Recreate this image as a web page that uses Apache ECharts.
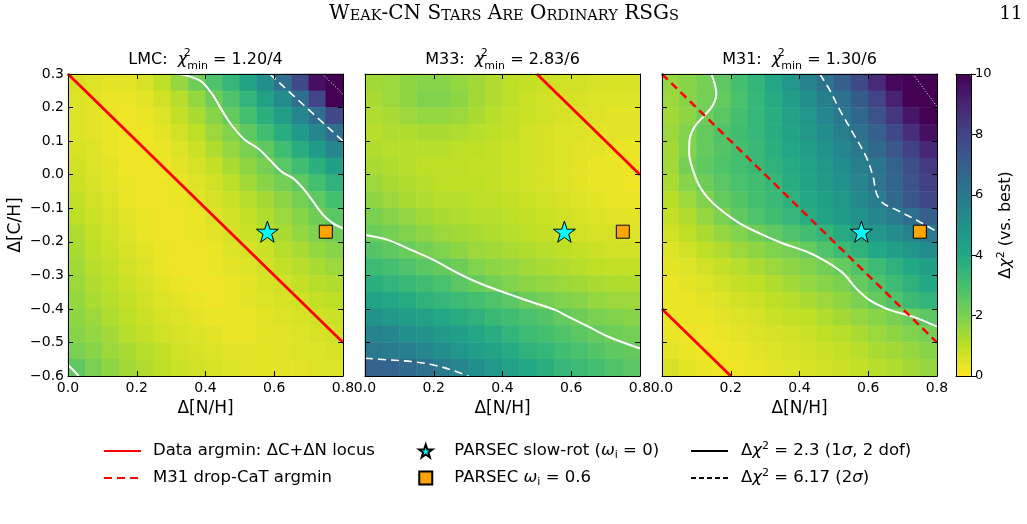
<!DOCTYPE html>
<html>
<head>
<meta charset="utf-8">
<script src="https://cdn.jsdelivr.net/npm/echarts@6/dist/echarts.min.js"></script>
<style>
html, body { margin: 0; padding: 0; background: #fff; }
#chart { width: 1027px; height: 524px; }
</style>
</head>
<body>
<div id="chart"></div>
<script>
// cell centres of the delta-chi2 maps
const xCells = [0.025, 0.075, 0.125, 0.175, 0.225, 0.275, 0.325, 0.375, 0.425, 0.475, 0.525, 0.575, 0.625, 0.675, 0.725, 0.775];
// rows listed top -> bottom
const yCells = [0.275, 0.225, 0.175, 0.125, 0.075, 0.025, -0.025, -0.075, -0.125, -0.175, -0.225, -0.275, -0.325, -0.375, -0.425, -0.475, -0.525, -0.575];

const lmcMap = [
  [0.6, 0.5, 0.4, 0.4, 0.6, 1.0, 1.6, 2.2, 2.8, 3.4, 4.2, 5.1, 6.3, 7.8, 9.6, 12.0],
  [0.5, 0.4, 0.3, 0.3, 0.4, 0.7, 1.1, 1.6, 2.2, 2.8, 3.5, 4.3, 5.2, 6.4, 8.0, 10.2],
  [0.5, 0.4, 0.3, 0.2, 0.3, 0.5, 0.9, 1.3, 1.8, 2.4, 3.0, 3.7, 4.5, 5.4, 6.4, 7.8],
  [0.5, 0.4, 0.3, 0.2, 0.2, 0.4, 0.7, 1.0, 1.5, 1.9, 2.5, 3.1, 3.8, 4.6, 5.4, 6.4],
  [0.6, 0.5, 0.3, 0.2, 0.2, 0.3, 0.5, 0.8, 1.2, 1.6, 2.0, 2.5, 3.1, 3.8, 4.6, 5.5],
  [0.7, 0.5, 0.4, 0.2, 0.2, 0.2, 0.4, 0.6, 0.9, 1.3, 1.7, 2.1, 2.6, 3.1, 3.7, 4.4],
  [0.8, 0.6, 0.4, 0.3, 0.2, 0.2, 0.3, 0.5, 0.7, 1.0, 1.4, 1.8, 2.1, 2.5, 3.0, 3.6],
  [0.9, 0.7, 0.5, 0.3, 0.2, 0.2, 0.3, 0.4, 0.6, 0.8, 1.1, 1.4, 1.7, 2.1, 2.5, 3.0],
  [1.0, 0.8, 0.6, 0.4, 0.3, 0.2, 0.2, 0.3, 0.5, 0.7, 0.9, 1.2, 1.5, 1.8, 2.2, 2.6],
  [1.2, 0.9, 0.7, 0.5, 0.3, 0.2, 0.2, 0.3, 0.4, 0.6, 0.8, 1.0, 1.3, 1.6, 1.9, 2.2],
  [1.3, 1.0, 0.8, 0.6, 0.4, 0.3, 0.2, 0.2, 0.3, 0.5, 0.6, 0.8, 1.1, 1.3, 1.6, 1.8],
  [1.4, 1.1, 0.9, 0.7, 0.5, 0.3, 0.2, 0.2, 0.3, 0.4, 0.5, 0.7, 0.9, 1.1, 1.3, 1.5],
  [1.5, 1.2, 1.0, 0.8, 0.6, 0.4, 0.3, 0.2, 0.2, 0.3, 0.4, 0.6, 0.7, 0.9, 1.1, 1.2],
  [1.6, 1.3, 1.1, 0.9, 0.7, 0.5, 0.4, 0.3, 0.2, 0.3, 0.4, 0.5, 0.6, 0.7, 0.9, 1.0],
  [1.7, 1.5, 1.2, 1.0, 0.8, 0.6, 0.5, 0.4, 0.3, 0.3, 0.3, 0.4, 0.5, 0.6, 0.7, 0.8],
  [1.8, 1.6, 1.4, 1.1, 0.9, 0.7, 0.6, 0.5, 0.4, 0.3, 0.3, 0.4, 0.4, 0.5, 0.6, 0.7],
  [2.0, 1.8, 1.5, 1.3, 1.1, 0.9, 0.7, 0.6, 0.5, 0.4, 0.4, 0.4, 0.4, 0.5, 0.5, 0.6],
  [2.5, 2.0, 1.7, 1.4, 1.2, 1.0, 0.8, 0.7, 0.6, 0.5, 0.4, 0.4, 0.4, 0.4, 0.5, 0.5]
];

const m33Map = [
  [1.4, 1.5, 1.7, 1.8, 1.8, 1.6, 1.4, 1.2, 1.0, 0.9, 0.8, 0.7, 0.7, 0.6, 0.6, 0.6],
  [1.3, 1.5, 1.7, 1.9, 1.9, 1.7, 1.4, 1.2, 1.0, 0.8, 0.7, 0.6, 0.6, 0.5, 0.5, 0.5],
  [1.2, 1.3, 1.5, 1.6, 1.6, 1.5, 1.3, 1.1, 0.9, 0.8, 0.7, 0.6, 0.5, 0.5, 0.4, 0.4],
  [1.1, 1.2, 1.2, 1.3, 1.3, 1.2, 1.1, 1.0, 0.9, 0.7, 0.6, 0.5, 0.5, 0.4, 0.4, 0.4],
  [1.2, 1.1, 1.1, 1.1, 1.1, 1.0, 1.0, 0.9, 0.8, 0.7, 0.6, 0.5, 0.4, 0.4, 0.3, 0.3],
  [1.3, 1.2, 1.1, 1.0, 1.0, 1.0, 0.9, 0.9, 0.8, 0.7, 0.6, 0.5, 0.4, 0.3, 0.3, 0.2],
  [1.5, 1.3, 1.2, 1.1, 1.0, 1.0, 1.0, 0.9, 0.8, 0.7, 0.6, 0.5, 0.4, 0.3, 0.3, 0.2],
  [1.7, 1.5, 1.3, 1.2, 1.1, 1.1, 1.0, 1.0, 0.9, 0.8, 0.7, 0.6, 0.5, 0.4, 0.3, 0.3],
  [2.0, 1.8, 1.6, 1.4, 1.3, 1.2, 1.1, 1.1, 1.0, 0.9, 0.8, 0.7, 0.6, 0.5, 0.4, 0.4],
  [2.3, 2.1, 1.9, 1.7, 1.5, 1.4, 1.3, 1.2, 1.1, 1.0, 0.9, 0.8, 0.7, 0.6, 0.6, 0.5],
  [2.7, 2.5, 2.3, 2.1, 1.9, 1.7, 1.5, 1.4, 1.3, 1.2, 1.1, 1.0, 0.9, 0.8, 0.7, 0.7],
  [3.2, 3.0, 2.8, 2.6, 2.4, 2.2, 1.9, 1.7, 1.6, 1.4, 1.3, 1.2, 1.1, 1.0, 0.9, 0.9],
  [3.7, 3.5, 3.3, 3.1, 2.9, 2.6, 2.35, 2.1, 1.9, 1.7, 1.6, 1.5, 1.4, 1.3, 1.2, 1.2],
  [4.3, 4.1, 3.9, 3.6, 3.4, 3.2, 3.0, 2.8, 2.6, 2.3, 2.1, 1.9, 1.8, 1.6, 1.5, 1.5],
  [4.9, 4.7, 4.5, 4.3, 4.0, 3.8, 3.6, 3.3, 3.1, 2.9, 2.7, 2.4, 2.2, 2.0, 1.9, 1.8],
  [5.6, 5.4, 5.1, 4.9, 4.6, 4.4, 4.1, 3.8, 3.5, 3.2, 3.0, 2.8, 2.6, 2.4, 2.2, 2.1],
  [6.0, 5.9, 5.7, 5.4, 5.1, 4.8, 4.5, 4.2, 3.9, 3.6, 3.4, 3.1, 2.9, 2.7, 2.5, 2.4],
  [6.9, 6.8, 6.6, 6.3, 5.9, 5.5, 5.1, 4.7, 4.3, 4.0, 3.7, 3.4, 3.2, 3.0, 2.8, 2.6]
];

const m31Map = [
  [1.6, 1.8, 2.1, 2.5, 3.0, 3.5, 4.1, 4.8, 5.6, 6.2, 7.0, 7.8, 8.8, 9.8, 11.0, 12.5],
  [1.5, 1.8, 2.1, 2.4, 2.9, 3.4, 3.9, 4.5, 5.1, 5.7, 6.3, 7.1, 8.0, 9.1, 10.3, 11.6],
  [1.4, 1.7, 2.2, 2.6, 3.0, 3.4, 3.8, 4.3, 4.8, 5.4, 6.0, 6.7, 7.5, 8.4, 9.4, 10.5],
  [1.5, 1.9, 2.4, 2.8, 3.1, 3.4, 3.8, 4.2, 4.7, 5.2, 5.7, 6.3, 7.0, 7.8, 8.7, 9.6],
  [1.4, 1.9, 2.4, 2.7, 3.0, 3.3, 3.7, 4.1, 4.5, 4.9, 5.4, 6.0, 6.6, 7.3, 8.1, 8.9],
  [1.4, 2.1, 2.5, 2.8, 3.0, 3.3, 3.6, 3.9, 4.3, 4.7, 5.2, 5.7, 6.1, 6.9, 7.6, 8.3],
  [1.3, 1.8, 2.2, 2.6, 2.9, 3.1, 3.4, 3.8, 4.2, 4.6, 5.0, 5.5, 6.1, 6.8, 7.5, 8.1],
  [1.1, 1.5, 1.9, 2.4, 2.7, 3.0, 3.3, 3.6, 4.0, 4.4, 4.8, 5.3, 5.9, 6.6, 7.3, 7.9],
  [0.9, 1.2, 1.6, 2.0, 2.5, 2.8, 3.1, 3.4, 3.8, 4.2, 4.6, 5.0, 5.5, 5.9, 6.4, 7.0],
  [0.7, 1.0, 1.3, 1.6, 1.9, 2.2, 2.5, 2.8, 3.1, 3.5, 3.9, 4.3, 4.7, 5.2, 5.6, 6.0],
  [0.5, 0.7, 1.0, 1.2, 1.5, 1.7, 1.9, 2.1, 2.4, 2.8, 3.2, 3.6, 4.0, 4.4, 4.8, 5.2],
  [0.4, 0.5, 0.7, 0.9, 1.1, 1.3, 1.5, 1.7, 1.9, 2.1, 2.4, 2.8, 3.2, 3.6, 4.0, 4.4],
  [0.3, 0.4, 0.5, 0.7, 0.9, 1.0, 1.2, 1.4, 1.6, 1.8, 2.0, 2.4, 2.8, 3.2, 3.6, 4.0],
  [0.3, 0.3, 0.4, 0.5, 0.7, 0.8, 1.0, 1.1, 1.3, 1.5, 1.7, 2.0, 2.4, 2.8, 3.2, 3.5],
  [0.3, 0.3, 0.3, 0.4, 0.5, 0.6, 0.8, 0.9, 1.0, 1.2, 1.4, 1.6, 1.8, 2.0, 2.3, 2.6],
  [0.3, 0.2, 0.2, 0.3, 0.4, 0.5, 0.6, 0.7, 0.8, 1.0, 1.1, 1.3, 1.5, 1.7, 1.9, 2.1],
  [0.4, 0.3, 0.2, 0.2, 0.3, 0.4, 0.5, 0.6, 0.7, 0.8, 0.9, 1.1, 1.3, 1.4, 1.6, 1.8],
  [0.6, 0.4, 0.3, 0.2, 0.2, 0.3, 0.4, 0.5, 0.6, 0.7, 0.8, 0.9, 1.1, 1.2, 1.4, 1.6]
];

// contour levels: 2.3 (solid), 6.17 (dashed), 11.8 (dotted)
const lmcSig1 = [[0.326, 0.3], [0.384, 0.28], [0.418, 0.242], [0.447, 0.193], [0.476, 0.148], [0.515, 0.103], [0.553, 0.078], [0.587, 0.044], [0.621, 0.009], [0.655, -0.011], [0.684, -0.041], [0.713, -0.08], [0.742, -0.12], [0.771, -0.145], [0.8, -0.16]];
const lmcSig1b = [[0, -0.567], [0.015, -0.582], [0.031, -0.6]];
const lmcSig2 = [[0.587, 0.3], [0.8, 0.1]];
const lmcSig3 = [[0.74, 0.3], [0.8, 0.24]];

const m33Sig1 = [[0, -0.18], [0.068, -0.195], [0.136, -0.225], [0.199, -0.254], [0.252, -0.284], [0.301, -0.309], [0.359, -0.334], [0.427, -0.359], [0.495, -0.383], [0.553, -0.403], [0.591, -0.423], [0.65, -0.453], [0.708, -0.483], [0.8, -0.518]];
const m33Sig2 = [[0, -0.547], [0.068, -0.552], [0.136, -0.557], [0.199, -0.567], [0.252, -0.582], [0.301, -0.6]];

const m31Sig1 = [[0.1435, 0.3], [0.153, 0.272], [0.158, 0.242], [0.148, 0.207], [0.124, 0.177], [0.095, 0.143], [0.08, 0.103], [0.079, 0.063], [0.09, 0.014], [0.11, -0.036], [0.139, -0.075], [0.177, -0.11], [0.226, -0.145], [0.284, -0.175], [0.352, -0.205], [0.42, -0.229], [0.478, -0.259], [0.527, -0.294], [0.565, -0.339], [0.604, -0.374], [0.662, -0.403], [0.73, -0.423], [0.8, -0.453]];
const m31Sig2 = [[0.459, 0.3], [0.488, 0.252], [0.517, 0.193], [0.556, 0.123], [0.594, 0.053], [0.614, -0.006], [0.624, -0.056], [0.643, -0.085], [0.682, -0.105], [0.74, -0.135], [0.8, -0.17]];
const m31Sig3 = [[0.73, 0.3], [0.8, 0.203]];

// argmin loci (dC + dN = const)
const lmcLocus = [[0, 0.3], [0.8, -0.5]];
const m33Locus = [[0.5, 0.3], [0.8, 0.0]];
const m31Locus = [[0, -0.4], [0.2, -0.6]];
const m31DropCaT = [[0, 0.3], [0.8, -0.5]];

// PARSEC model predictions
const parsecSlow = [[0.58, -0.17]];
const parsecFast = [[0.75, -0.17]];

const viridisR = ['#fde725', '#bddf26', '#7ad151', '#44bf70', '#22a884', '#21918c', '#2a788e', '#355f8d', '#414487', '#482475', '#440154'];

const LOCUS = 'Data argmin: ΔC+ΔN locus';
const DROP = 'M31 drop-CaT argmin';
const SLOW = 'PARSEC slow-rot (ωi = 0)';
const FAST = 'PARSEC ωi = 0.6';
const SIG1 = 'Δχ2 = 2.3 (1σ, 2 dof)';
const SIG2 = 'Δχ2 = 6.17 (2σ)';
const legendText = {};
legendText[LOCUS] = 'Data argmin: ΔC+ΔN locus';
legendText[DROP] = 'M31 drop-CaT argmin';
legendText[SLOW] = 'PARSEC slow-rot ({it|ω}{sub|i} = 0)';
legendText[FAST] = 'PARSEC {it|ω}{sub|i} = 0.6';
legendText[SIG1] = 'Δ{it|χ}{sup|2} = 2.3 (1{it|σ}, 2 dof)';
legendText[SIG2] = 'Δ{it|χ}{sup|2} = 6.17 (2{it|σ})';

const panels = [
  { label: 'LMC', chi: '1.20/4', map: lmcMap, sig1: [lmcSig1, lmcSig1b], sig2: [lmcSig2], sig3: [lmcSig3], locus: [lmcLocus], drop: [], left: 68, yLabels: true },
  { label: 'M33', chi: '2.83/6', map: m33Map, sig1: [m33Sig1], sig2: [m33Sig2], sig3: [], locus: [m33Locus], drop: [], left: 365, yLabels: false },
  { label: 'M31', chi: '1.30/6', map: m31Map, sig1: [m31Sig1], sig2: [m31Sig2], sig3: [m31Sig3], locus: [m31Locus], drop: [m31DropCaT], left: 662, yLabels: false }
];

const TOP = 74, W = 275, H = 302;
const FONT = 'DejaVu Sans';
const SERIF = 'DejaVu Serif';
const starPath = 'path://M50,0 L61.8,35.4 L98.1,35.4 L68.8,57.3 L79.4,92.7 L50,71 L20.6,92.7 L31.2,57.3 L1.9,35.4 L38.2,35.4 Z';
const squarePath = 'path://M0,0 L10,0 L10,10 L0,10 Z';
const fmt1 = v => (Math.abs(v) < 1e-9 ? 0 : v).toFixed(1).replace('-', '\u2212');
const richFor = size => ({
  it: { fontFamily: FONT, fontStyle: 'italic', fontSize: size, color: '#000' },
  sup: { fontFamily: FONT, fontSize: Math.round(size * 0.68), verticalAlign: 'top', lineHeight: 10, color: '#000' },
  sub: { fontFamily: FONT, fontSize: Math.round(size * 0.68), verticalAlign: 'bottom', lineHeight: 10, color: '#000' }
});

const chart = echarts.init(document.getElementById('chart'));

const grid = [], xAxis = [], yAxis = [], series = [], title = [];
const heatIdx = [];
const yCats = yCells.slice().reverse().map(String);

panels.forEach((p, i) => {
  grid.push({ left: p.left, top: TOP, width: W, height: H });
  grid.push({ left: p.left, top: TOP, width: W, height: H });
  const tick = { show: true, inside: true, length: 5, lineStyle: { color: '#000', width: 1 } };
  const line = { show: true, onZero: false, lineStyle: { color: '#000', width: 1 } };
  // hidden category axes carry the map cells
  xAxis.push({ type: 'category', gridIndex: 2 * i, data: xCells.map(String), show: false });
  yAxis.push({ type: 'category', gridIndex: 2 * i, data: yCats, show: false });
  xAxis.push({
    type: 'value', gridIndex: 2 * i + 1, min: 0, max: 0.8, interval: 0.2, z: 10,
    axisLine: line, axisTick: tick, splitLine: { show: false },
    axisLabel: { fontFamily: FONT, fontSize: 14, color: '#000', margin: 5, formatter: fmt1 },
    name: 'Δ[N/H]', nameLocation: 'middle', nameGap: 21,
    nameTextStyle: { fontFamily: FONT, fontSize: 17, color: '#000' }
  });
  xAxis.push({
    type: 'value', gridIndex: 2 * i + 1, position: 'top', min: 0, max: 0.8, interval: 0.2, z: 10,
    axisLine: line, axisTick: tick, splitLine: { show: false }, axisLabel: { show: false }
  });
  yAxis.push({
    type: 'value', gridIndex: 2 * i + 1, min: -0.6, max: 0.3, interval: 0.1, z: 10,
    axisLine: line, axisTick: tick, splitLine: { show: false },
    axisLabel: { show: p.yLabels, fontFamily: FONT, fontSize: 14, color: '#000', margin: 4, formatter: fmt1 },
    name: p.yLabels ? 'Δ[C/H]' : '', nameLocation: 'middle', nameGap: 44,
    nameTextStyle: { fontFamily: FONT, fontSize: 17, color: '#000' }
  });
  yAxis.push({
    type: 'value', gridIndex: 2 * i + 1, position: 'right', min: -0.6, max: 0.3, interval: 0.1, z: 10,
    axisLine: line, axisTick: tick, splitLine: { show: false }, axisLabel: { show: false }
  });

  const cells = [];
  p.map.forEach((row, r) => row.forEach((v, c) => cells.push([c, yCells.length - 1 - r, v])));
  heatIdx.push(series.length);
  series.push({
    type: 'heatmap', xAxisIndex: 3 * i, yAxisIndex: 3 * i, data: cells,
    silent: true, emphasis: { disabled: true }, z: 1
  });
  const ax = { xAxisIndex: 3 * i + 1, yAxisIndex: 3 * i + 1 };
  const addLine = (data, name, style, smooth) => series.push(Object.assign({
    type: 'line', name: name, data: data, symbol: 'none', silent: true, lineStyle: style, smooth: smooth, z: 4
  }, ax));
  p.sig1.forEach(d => addLine(d, 'c1', { color: '#fff', width: 2 }, 0.35));
  p.sig2.forEach(d => addLine(d, 'c2', { color: '#fff', width: 1.6, type: [8, 5] }, 0.35));
  p.sig3.forEach(d => addLine(d, 'c3', { color: '#fff', width: 1, type: [1, 2] }, false));
  p.locus.forEach(d => addLine(d, LOCUS, { color: '#ff0000', width: 2.8 }, false));
  p.drop.forEach(d => addLine(d, DROP, { color: '#ff0000', width: 2.5, type: [8, 5] }, false));
  series.push(Object.assign({
    type: 'scatter', name: SLOW, data: parsecSlow, symbol: starPath, symbolSize: 22, symbolKeepAspect: true,
    itemStyle: { color: '#00ffff', borderColor: '#000', borderWidth: 1, opacity: 1 }, z: 6, silent: true
  }, ax));
  series.push(Object.assign({
    type: 'scatter', name: FAST, data: parsecFast, symbol: squarePath, symbolSize: 13, symbolKeepAspect: true,
    itemStyle: { color: '#ffa500', borderColor: '#000', borderWidth: 1, opacity: 1 }, z: 6, silent: true
  }, ax));

  title.push({
    text: p.label + ':  {it|χ}{sup|2}{sub|min} = ' + p.chi,
    left: p.left + W / 2, top: 48, textAlign: 'center', padding: 0,
    textStyle: {
      fontFamily: FONT, fontSize: 16, fontWeight: 'normal', color: '#000', lineHeight: 24,
      rich: {
        it: { fontFamily: FONT, fontStyle: 'italic', fontSize: 16, lineHeight: 24 },
        sup: { fontFamily: FONT, fontSize: 11, verticalAlign: 'top', lineHeight: 14, width: 0 },
        sub: { fontFamily: FONT, fontSize: 11, verticalAlign: 'bottom', lineHeight: 12 }
      }
    }
  });
});

// colour bar axes
grid.push({ left: 956, top: TOP, width: 15, height: H });
xAxis.push({ type: 'value', gridIndex: 6, min: 0, max: 1, z: 10, axisLine: { onZero: false, lineStyle: { color: '#000' } }, axisTick: { show: false }, axisLabel: { show: false }, splitLine: { show: false } });
xAxis.push({ type: 'value', gridIndex: 6, position: 'top', min: 0, max: 1, z: 10, axisLine: { onZero: false, lineStyle: { color: '#000' } }, axisTick: { show: false }, axisLabel: { show: false }, splitLine: { show: false } });
yAxis.push({
  type: 'value', gridIndex: 6, position: 'right', min: 0, max: 10, interval: 2, z: 10,
  axisLine: { show: true, onZero: false, lineStyle: { color: '#000' } },
  axisTick: { show: true, length: 5, lineStyle: { color: '#000' } }, splitLine: { show: false },
  axisLabel: { fontFamily: FONT, fontSize: 13, color: '#000', margin: 4 },
  name: 'Δ{it|χ}{sup|2} (vs. best)', nameLocation: 'middle', nameGap: 25, nameRotate: 90,
  nameTextStyle: { fontFamily: FONT, fontSize: 16, color: '#000', lineHeight: 20, rich: richFor(16) }
});
yAxis.push({ type: 'value', gridIndex: 6, position: 'left', min: 0, max: 10, z: 10, axisLine: { show: true, onZero: false, lineStyle: { color: '#000' } }, axisTick: { show: false }, axisLabel: { show: false }, splitLine: { show: false } });

// legend-only entries for the contour styles
series.push({ type: 'line', name: SIG1, data: [], symbol: 'none', lineStyle: { color: '#000', width: 2.5 }, itemStyle: { color: '#000' } });
series.push({ type: 'line', name: SIG2, data: [], symbol: 'none', lineStyle: { color: '#000', width: 2, type: [5, 3] }, itemStyle: { color: '#000' } });

// running head in small caps
title.push({
  text: 'W{sc|EAK}-CN S{sc|TARS} A{sc|RE} O{sc|RDINARY} RSG{sc|S}',
  left: 504, top: 1, textAlign: 'center', padding: 0,
  textStyle: {
    fontFamily: SERIF, fontSize: 20, fontWeight: 'normal', color: '#000', lineHeight: 26,
    rich: { sc: { fontFamily: SERIF, fontSize: 14.5, verticalAlign: 'middle', padding: [4, 0, 0, 0] } }
  }
});
title.push({
  text: '11', left: 1011, top: 1, textAlign: 'center', padding: 0,
  textStyle: { fontFamily: SERIF, fontSize: 18, fontWeight: 'normal', color: '#000', lineHeight: 26 }
});

const legendBase = {
  orient: 'vertical', top: 441, padding: 0, itemGap: 7, selectedMode: false, itemWidth: 37,
  formatter: name => legendText[name]
};
const legendTextStyle = pad => ({ fontFamily: FONT, fontSize: 16.5, color: '#000', lineHeight: 20, padding: [0, 0, 0, pad], rich: richFor(16.5) });

chart.setOption({
  animation: false,
  backgroundColor: '#fff',
  title: title,
  grid: grid,
  xAxis: xAxis,
  yAxis: yAxis,
  visualMap: {
    type: 'continuous', min: 0, max: 10, seriesIndex: heatIdx, calculable: false,
    orient: 'vertical', left: 956, top: TOP, itemWidth: 15, itemHeight: H, padding: 0,
    inRange: { color: viridisR }, hoverLink: false
  },
  legend: [
    Object.assign({}, legendBase, { left: 103, itemHeight: 14, data: [LOCUS, DROP],
      itemStyle: { opacity: 0 }, textStyle: legendTextStyle(7) }),
    Object.assign({}, legendBase, { left: 418, itemHeight: 13, data: [SLOW, FAST],
      textStyle: legendTextStyle(5) }),
    Object.assign({}, legendBase, { left: 690, itemHeight: 14, data: [SIG1, SIG2],
      itemStyle: { opacity: 0 }, textStyle: legendTextStyle(8) })
  ],
  series: series
});
</script>
</body>
</html>
